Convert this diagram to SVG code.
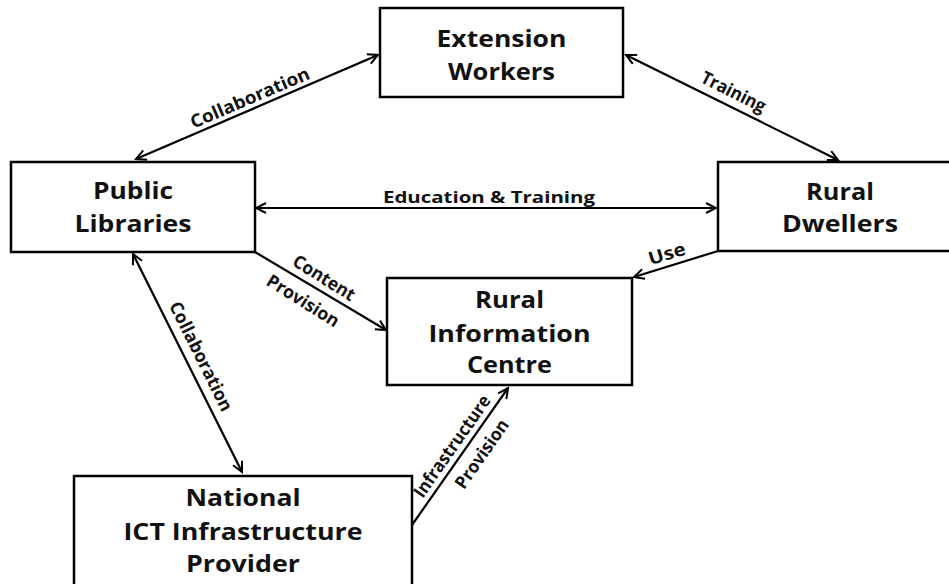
<svg xmlns="http://www.w3.org/2000/svg" width="949" height="584" viewBox="0 0 949 584">
<style>
.box{fill:#fff;stroke:#000;stroke-width:2.5}
.nt{font-family:"Open Sans","Liberation Sans",sans-serif;font-weight:bold;font-size:23px;fill:#111;text-anchor:middle}
.lb{font-family:"Open Sans","Liberation Sans",sans-serif;font-weight:bold;font-size:16px;fill:#111;text-anchor:middle}
.dl{font-size:18px}
.ln{fill:none;stroke:#000;stroke-width:2.2}
</style>
<defs>
<marker id="ah" markerUnits="userSpaceOnUse" markerWidth="14" markerHeight="14" viewBox="0 0 14 14" refX="12" refY="7" orient="auto-start-reverse">
<path d="M2,2 L12,7 L2,12" fill="none" stroke="#000" stroke-width="2"/>
</marker>
</defs>
<rect width="949" height="584" fill="#fff"/>
<g id="connectors">
<line class="ln" x1="378" y1="55" x2="136" y2="159" marker-start="url(#ah)" marker-end="url(#ah)"/>
<line class="ln" x1="626" y1="55" x2="838" y2="160" marker-start="url(#ah)" marker-end="url(#ah)"/>
<line class="ln" x1="256" y1="208" x2="716" y2="208" marker-start="url(#ah)" marker-end="url(#ah)"/>
<line class="ln" x1="255" y1="252" x2="386" y2="330" marker-end="url(#ah)"/>
<line class="ln" x1="718" y1="251" x2="634" y2="277" marker-end="url(#ah)"/>
<line class="ln" x1="133" y1="254" x2="242" y2="472" marker-start="url(#ah)" marker-end="url(#ah)"/>
<line class="ln" x1="412" y1="525" x2="508" y2="388" marker-end="url(#ah)"/>
<text class="lb dl" transform="translate(250,98) rotate(-23.2)" y="6" textLength="128" lengthAdjust="spacingAndGlyphs">Collaboration</text>
<text class="lb dl" transform="translate(733,93) rotate(26.5)" y="5" textLength="70" lengthAdjust="spacingAndGlyphs">Training</text>
<text class="lb" x="489" y="203" textLength="212" lengthAdjust="spacingAndGlyphs">Education &amp; Training</text>
<text class="lb dl" transform="translate(324,278) rotate(32)" y="6" textLength="70" lengthAdjust="spacingAndGlyphs">Content</text>
<text class="lb dl" transform="translate(303,301) rotate(32)" y="6" textLength="82" lengthAdjust="spacingAndGlyphs">Provision</text>
<text class="lb dl" transform="translate(667,254) rotate(-17)" y="6" textLength="38" lengthAdjust="spacingAndGlyphs">Use</text>
<text class="lb dl" transform="translate(200,357) rotate(63.5)" y="5" textLength="120" lengthAdjust="spacingAndGlyphs">Collaboration</text>
<text class="lb dl" transform="translate(453,447) rotate(-55)" y="5" textLength="120" lengthAdjust="spacingAndGlyphs">Infrastructure</text>
<text class="lb dl" transform="translate(482,454) rotate(-55)" y="6" textLength="80" lengthAdjust="spacingAndGlyphs">Provision</text>
</g>
<g id="extension-workers">
<rect class="box" x="380" y="8" width="243" height="89"/>
<text class="nt" x="501.5" y="47" textLength="130" lengthAdjust="spacingAndGlyphs">Extension</text>
<text class="nt" x="501.5" y="80" textLength="107" lengthAdjust="spacingAndGlyphs">Workers</text>
</g>
<g id="public-libraries">
<rect class="box" x="11" y="162" width="244" height="90"/>
<text class="nt" x="133" y="199" textLength="80" lengthAdjust="spacingAndGlyphs">Public</text>
<text class="nt" x="133" y="232" textLength="117" lengthAdjust="spacingAndGlyphs">Libraries</text>
</g>
<g id="rural-dwellers">
<rect class="box" x="718" y="162" width="246" height="89"/>
<text class="nt" x="840" y="200" textLength="68" lengthAdjust="spacingAndGlyphs">Rural</text>
<text class="nt" x="840" y="232" textLength="116" lengthAdjust="spacingAndGlyphs">Dwellers</text>
</g>
<g id="rural-information-centre">
<rect class="box" x="387" y="278" width="245" height="107"/>
<text class="nt" x="509.5" y="308" textLength="69" lengthAdjust="spacingAndGlyphs">Rural</text>
<text class="nt" x="509.5" y="342" textLength="162" lengthAdjust="spacingAndGlyphs">Information</text>
<text class="nt" x="509.5" y="373" textLength="85" lengthAdjust="spacingAndGlyphs">Centre</text>
</g>
<g id="national-ict">
<rect class="box" x="74" y="476" width="338" height="120"/>
<text class="nt" x="243" y="506" textLength="115" lengthAdjust="spacingAndGlyphs">National</text>
<text class="nt" x="243" y="540" textLength="239" lengthAdjust="spacingAndGlyphs">ICT Infrastructure</text>
<text class="nt" x="243" y="572" textLength="114" lengthAdjust="spacingAndGlyphs">Provider</text>
</g>
</svg>
